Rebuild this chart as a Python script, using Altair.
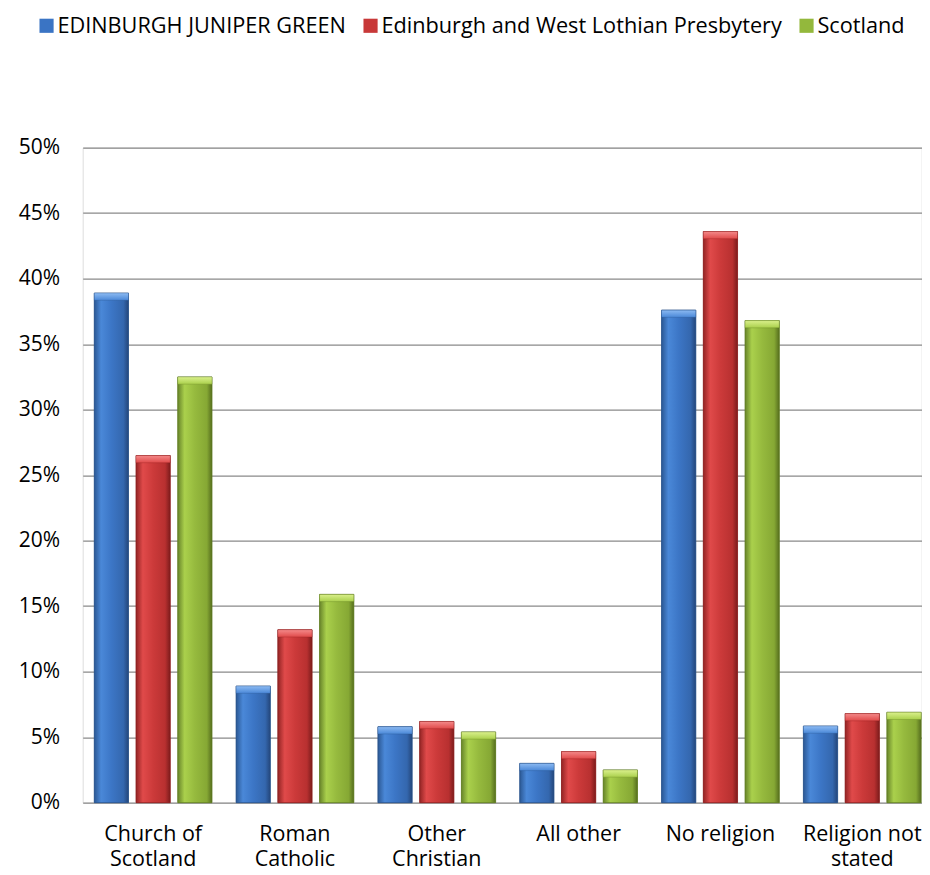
import altair as alt
import pandas as pd

categories = ["Church of|Scotland", "Roman|Catholic", "Other|Christian",
              "All other", "No religion", "Religion not|stated"]
series = ["EDINBURGH JUNIPER GREEN", "Edinburgh and West Lothian Presbytery", "Scotland"]
juniper_green = [38.9, 8.9, 5.8, 3.0, 37.6, 5.85]
presbytery = [26.5, 13.2, 6.2, 3.9, 43.6, 6.8]
scotland = [32.5, 15.9, 5.4, 2.5, 36.8, 6.9]
y_ticks = [0, 5, 10, 15, 20, 25, 30, 35, 40, 45, 50]

rows = []
for s, vals in zip(series, [juniper_green, presbytery, scotland]):
    for c, v in zip(categories, vals):
        rows.append({"category": c, "series": s, "value": v})
df = pd.DataFrame(rows)

base_colors = ["#3a74c4", "#c83838", "#93b83c"]
body_stops = [
    ["#2b5894", "#4a88d8", "#3c76c6", "#3467ae", "#24467a"],
    ["#932424", "#e04a4a", "#cc3a3a", "#b83030", "#7c1c1c"],
    ["#67842a", "#aad04c", "#96ba3e", "#86a834", "#566e1e"],
]
cap_stops = [
    ["#8cbaf2", "#4a88d8"],
    ["#f48a8a", "#e04a4a"],
    ["#daf08c", "#aad04c"],
]
edge_colors = ["#2a5288", "#8a2020", "#5e7a22"]

FONT = "Open Sans"

x_enc = alt.X(
    "category:N", sort=categories,
    scale=alt.Scale(paddingInner=0.17, paddingOuter=0.0816, range=[0, 850]),
    axis=alt.Axis(title=None, labelExpr="split(datum.value, '|')", labelFont=FONT,
                  labelFontSize=21.5, labelColor="#000", labelPadding=21,
                  labelLineHeight=25, ticks=False, domain=False, labelAngle=0,
                  labelLimit=300),
)
xo_enc = alt.XOffset("series:N", sort=series,
                     scale=alt.Scale(domain=series, paddingInner=0.18))
y_enc = alt.Y(
    "value:Q", scale=alt.Scale(domain=[0, 50], nice=False),
    axis=alt.Axis(title=None, values=y_ticks, labelExpr="datum.value + '%'",
                  ticks=False, domain=False, grid=True, gridColor="#8a8a8a",
                  gridWidth=1.3, labelFont=FONT, labelFontSize=21,
                  labelColor="#000", labelPadding=23),
)

legend_layer = alt.Chart(df).mark_bar().encode(
    x=x_enc, xOffset=xo_enc, y=y_enc,
    color=alt.Color(
        "series:N", sort=series,
        scale=alt.Scale(domain=series, range=base_colors),
        legend=alt.Legend(title=None, orient="none", direction="horizontal",
                          legendX=-47, legendY=-133, symbolType="square",
                          symbolSize=200, symbolStrokeWidth=0, symbolOpacity=1,
                          labelFont=FONT, labelFontSize=21.7, labelColor="#000",
                          labelOffset=0, columnPadding=13, labelLimit=600,
                          padding=0),
    ),
)

layers = [legend_layer]
for i, s in enumerate(series):
    st = body_stops[i]
    grad = alt.LinearGradient(
        gradient="linear", x1=0, x2=1, y1=0, y2=0,
        stops=[alt.GradientStop(offset=0, color=st[0]),
               alt.GradientStop(offset=0.2, color=st[1]),
               alt.GradientStop(offset=0.5, color=st[2]),
               alt.GradientStop(offset=0.85, color=st[3]),
               alt.GradientStop(offset=1, color=st[4])])
    body = alt.Chart(df).transform_filter(
        alt.datum.series == s
    ).mark_bar(fill=grad, stroke=edge_colors[i], strokeWidth=0.8).encode(
        x=x_enc, xOffset=xo_enc, y=y_enc
    )
    cs = cap_stops[i]
    cgrad = alt.LinearGradient(
        gradient="linear", x1=0, x2=0, y1=0, y2=1,
        stops=[alt.GradientStop(offset=0, color=cs[0]),
               alt.GradientStop(offset=1, color=cs[1])])
    cap = alt.Chart(df).transform_filter(
        alt.datum.series == s
    ).transform_calculate(
        capbot="datum.value - 0.55"
    ).mark_bar(fill=cgrad, stroke=edge_colors[i], strokeWidth=0.5,
               strokeOpacity=0.6).encode(
        x=x_enc, xOffset=xo_enc, y=y_enc, y2="capbot:Q"
    )
    layers += [body, cap]

chart = alt.layer(*layers).properties(
    width=839, height=655,
    autosize=alt.AutoSizeParams(type="none"),
    padding={"left": 74.7, "top": 139.7, "right": 0, "bottom": 64},
).configure_view(stroke=None).configure(background="white")

chart.save("out.html", embed_options={"renderer": "svg", "actions": False})
